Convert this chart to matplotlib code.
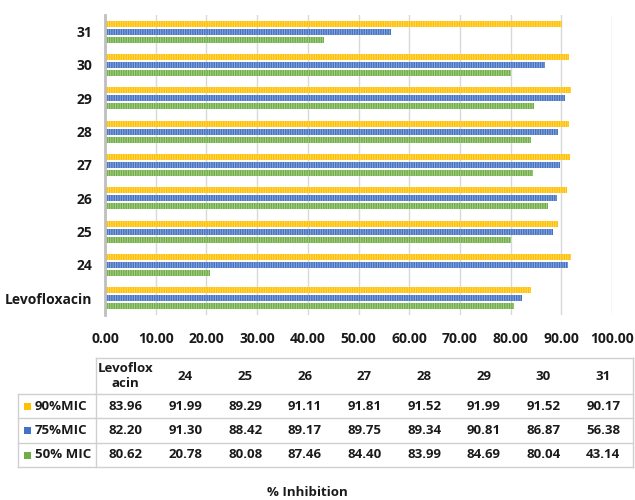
import matplotlib
matplotlib.use("Agg")
import matplotlib.pyplot as plt
import numpy as np

# Compounds tested (bottom to top on the chart)
categories = ["Levofloxacin", "24", "25", "26", "27", "28", "29", "30", "31"]
table_headers = ["Levoflox\nacin", "24", "25", "26", "27", "28", "29", "30", "31"]

# % inhibition at each MIC fraction
mic90 = [83.96, 91.99, 89.29, 91.11, 91.81, 91.52, 91.99, 91.52, 90.17]
mic75 = [82.20, 91.30, 88.42, 89.17, 89.75, 89.34, 90.81, 86.87, 56.38]
mic50 = [80.62, 20.78, 80.08, 87.46, 84.40, 83.99, 84.69, 80.04, 43.14]

series_names = ["90%MIC", "75%MIC", "50% MIC"]
series_values = [mic90, mic75, mic50]
series_colors = ["#FFC000", "#4472C4", "#70AD47"]
hatch_colors = ["#FFD965", "#8FAADC", "#A9D18E"]

x_ticks = np.arange(0, 101, 10)
x_label = "% Inhibition"

FONT = "Open Sans"
plt.rcParams["font.family"] = [FONT, "DejaVu Sans"]
plt.rcParams["hatch.linewidth"] = 0.7

W, H = 635, 500
fig = plt.figure(figsize=(W / 100, H / 100), dpi=100)

# ---- bar chart ----
ax = fig.add_axes([105 / W, 1 - 315 / H, (612 - 105) / W, 300 / H])
y = np.arange(len(categories))
offsets = [0.24, 0.0, -0.24]
bar_h = 0.18
for vals, off, col, hcol in zip(series_values, offsets, series_colors, hatch_colors):
    ax.barh(y + off, vals, height=bar_h, color=col, edgecolor=hcol,
            linewidth=0, hatch="|" * 7, zorder=3)

ax.set_xlim(0, 100)
ax.set_ylim(-0.5, len(categories) - 0.5)
ax.set_xticks(x_ticks)
ax.set_xticklabels([f"{v:.2f}" for v in x_ticks], fontsize=10, fontweight="bold",
                   color="#1a1a1a")
ax.set_yticks(y)
ax.set_yticklabels(categories, fontsize=10, fontweight="bold", color="#1a1a1a")
ax.tick_params(axis="both", length=0)
ax.tick_params(axis="x", pad=12)
ax.tick_params(axis="y", pad=9)
ax.grid(axis="x", color="#D9D9D9", linewidth=1.0, zorder=0)
for s in ["top", "right", "bottom"]:
    ax.spines[s].set_visible(False)
ax.spines["left"].set_color("#BFBFBF")
ax.spines["left"].set_linewidth(2.0)
ax.spines["left"].set_zorder(4)

# ---- data table beneath the chart ----
tx = fig.add_axes([0, 0, 1, 1])
tx.set_xlim(0, W)
tx.set_ylim(H, 0)
tx.axis("off")

x_left, x_div, x_right = 18, 96, 633
row_y = [358, 394, 418, 443, 467]
col_w = (x_right - x_div) / len(table_headers)
line_kw = dict(color="#D0D0D0", linewidth=1.0)

# borders
tx.plot([x_div, x_right], [row_y[0], row_y[0]], **line_kw)
for yy in row_y[1:]:
    tx.plot([x_left, x_right], [yy, yy], **line_kw)
tx.plot([x_div, x_div], [row_y[0], row_y[-1]], **line_kw)
tx.plot([x_right, x_right], [row_y[0], row_y[-1]], **line_kw)
tx.plot([x_left, x_left], [row_y[1], row_y[-1]], **line_kw)

txt_kw = dict(fontsize=9.5, fontweight="bold", color="#1a1a1a", va="center")
for j, hdr in enumerate(table_headers):
    cx = x_div + col_w * (j + 0.5)
    tx.text(cx, (row_y[0] + row_y[1]) / 2, hdr, ha="center", linespacing=1.2, **txt_kw)

for i, (name, vals, col) in enumerate(zip(series_names, series_values, series_colors)):
    cy = (row_y[i + 1] + row_y[i + 2]) / 2
    tx.add_patch(plt.Rectangle((24, cy - 3.5), 7, 7, color=col, linewidth=0))
    tx.text(35, cy, name, ha="left", **txt_kw)
    for j, v in enumerate(vals):
        cx = x_div + col_w * (j + 0.5)
        tx.text(cx, cy, f"{v:.2f}", ha="center", **txt_kw)

tx.text(307, 492, x_label, ha="center", **txt_kw)

fig.savefig("out.png", dpi=100)
